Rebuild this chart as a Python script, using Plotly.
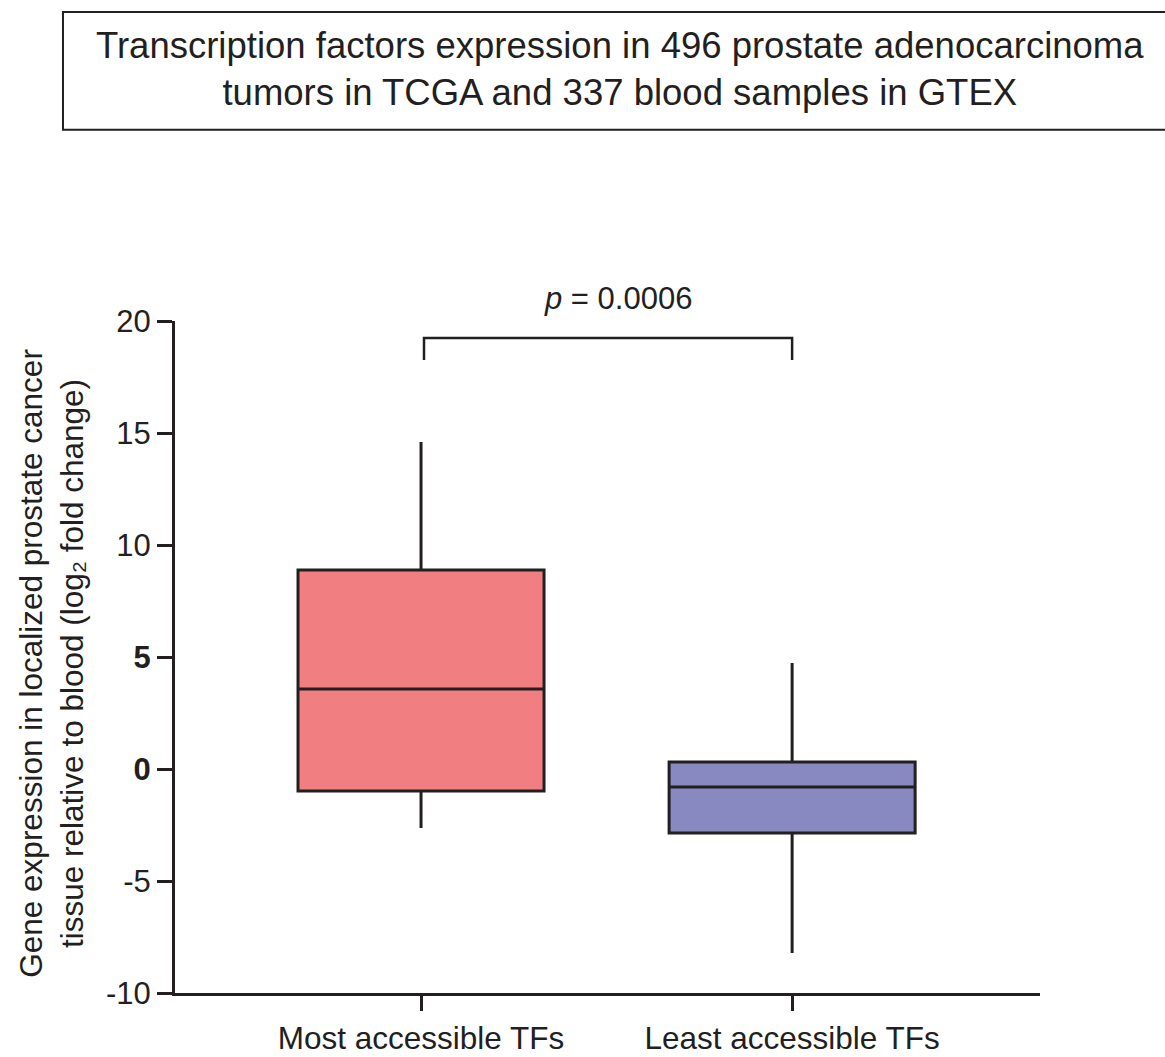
import plotly.graph_objects as go

categories = ["Most accessible TFs", "Least accessible TFs"]
lower_whisker = [-2.63, -8.21]
q1_values = [-0.98, -2.86]
median_values = [3.57, -0.80]
q3_values = [8.88, 0.31]
upper_whisker = [14.6, 4.73]
fill_colors = ["#F17F81", "#8889C1"]

tick_vals = [-10, -5, 0, 5, 10, 15, 20]
tick_text = ["-10", "-5", "<b>0</b>", "<b>5</b>", "10", "15", "20"]

title_text = ("Transcription factors expression in 496 prostate adenocarcinoma<br>"
              "tumors in TCGA and 337 blood samples in GTEX")
ytitle_text = ("Gene expression in localized prostate cancer<br>"
               "tissue relative to blood (log₂ fold change)")
p_text = "<i>p</i> = 0.0006"

FONT = "Liberation Sans, Arial, sans-serif"
DARK = "#231F20"

fig = go.Figure()
for i, cat in enumerate(categories):
    fig.add_trace(go.Box(
        x=[cat],
        q1=[q1_values[i]],
        median=[median_values[i]],
        q3=[q3_values[i]],
        lowerfence=[lower_whisker[i]],
        upperfence=[upper_whisker[i]],
        fillcolor=fill_colors[i],
        line=dict(color=DARK, width=3),
        whiskerwidth=0,
        width=0.663,
        boxpoints=False,
        showlegend=False,
        hoverinfo="skip",
    ))

# significance bracket
fig.add_shape(type="path",
              path="M 0.008,18.26 L 0.008,19.24 L 1,19.24 L 1,18.26",
              xref="x", yref="y",
              line=dict(color=DARK, width=2.5))
fig.add_annotation(x=0.531, y=(993 - 298) / 672, xref="x", yref="paper",
                   text=p_text, showarrow=False,
                   xanchor="center", yanchor="middle",
                   font=dict(family=FONT, size=31, color=DARK))

# title box
fig.add_shape(type="rect", xref="paper", yref="paper",
              x0=-0.1295, x1=1.2, y0=1.2845, y1=1.4598,
              line=dict(color=DARK, width=2), fillcolor="rgba(0,0,0,0)")
fig.add_annotation(x=(620 - 175) / 865, y=(993 - 69) / 672, xref="paper", yref="paper",
                   text=title_text, showarrow=False,
                   xanchor="center", yanchor="middle", align="center",
                   font=dict(family=FONT, size=36.5, color=DARK))

# y-axis title
fig.add_annotation(x=(52 - 175) / 865, y=0.49, xref="paper", yref="paper",
                   text=ytitle_text, showarrow=False, textangle=-90,
                   xanchor="center", yanchor="middle", align="center",
                   font=dict(family=FONT, size=31.5, color=DARK))

fig.update_layout(
    width=1165, height=1057,
    margin=dict(l=175, r=125, t=321, b=64),
    paper_bgcolor="white", plot_bgcolor="white",
    font=dict(family=FONT, color=DARK),
    xaxis=dict(
        type="category",
        range=[-0.663, 1.668],
        automargin=False,
        showline=True, linecolor=DARK, linewidth=3,
        ticks="outside", ticklen=15, tickwidth=2.5, tickcolor=DARK,
        tickfont=dict(family=FONT, size=31.5, color=DARK),
        showgrid=False, zeroline=False,
    ),
    yaxis=dict(
        range=[-10, 20],
        automargin=False,
        tickvals=tick_vals, ticktext=tick_text,
        showline=True, linecolor=DARK, linewidth=3,
        ticks="outside", ticklen=15, tickwidth=2.5, tickcolor=DARK,
        tickfont=dict(family=FONT, size=31, color=DARK),
        showgrid=False, zeroline=False,
    ),
)

fig.write_html("out.html")
